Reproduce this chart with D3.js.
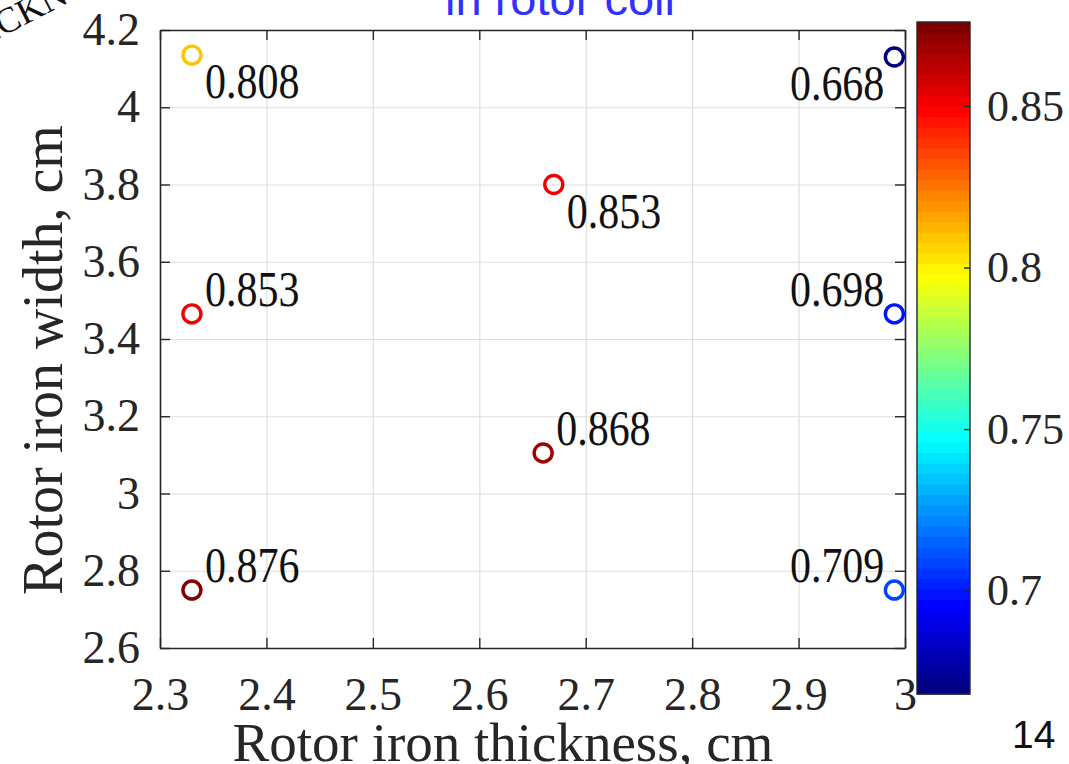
<html>
    <head>
        <script src="https://d3js.org/d3.v7.min.js"></script>
        <title>Rotor iron scatter</title>
        <style>
            body { margin: 0; background: #fff; }
        </style>
    </head>
    <body>
        <div class="viz"></div>
        <script type="text/javascript">
            // data
            var thickness = [2.33, 2.99, 2.67, 2.33, 2.99, 2.66, 2.33, 2.99];
            var width = [4.135, 4.13, 3.80, 3.465, 3.465, 3.105, 2.75, 2.75];
            var values = [0.808, 0.668, 0.853, 0.853, 0.698, 0.868, 0.876, 0.709];
            var labelSide = ["br", "bl", "br", "tr", "tl", "tr", "tr", "tl"];
            var xTicks = [2.3, 2.4, 2.5, 2.6, 2.7, 2.8, 2.9, 3.0];
            var yTicks = [2.6, 2.8, 3.0, 3.2, 3.4, 3.6, 3.8, 4.0, 4.2];
            var cbTicks = [0.7, 0.75, 0.8, 0.85];

            var vizWidth = 1069, vizHeight = 764;
            // note: "top" is taken by window.top, so prefix these
            var plotL = 160, plotR = 905, plotT = 30, plotB = 648;
            var serif = "'Liberation Serif', 'Times New Roman', serif";
            var sans = "'Liberation Sans', Arial, sans-serif";
            var axisColor = "#262626";

            // matlab jet colormap
            function jet(t) {
                function c(v) { return Math.max(0, Math.min(1, v)); }
                var r = c(1.5 - Math.abs(4 * t - 3));
                var g = c(1.5 - Math.abs(4 * t - 2));
                var b = c(1.5 - Math.abs(4 * t - 1));
                return d3.rgb(r * 255, g * 255, b * 255).toString();
            }

            var xScale = d3.scaleLinear().domain([2.3, 3.0]).range([plotL, plotR]);
            var yScale = d3.scaleLinear().domain([2.6, 4.2]).range([plotB, plotT]);
            var cMin = d3.min(values), cMax = d3.max(values);
            // 64 discrete steps like matlab
            var colorScale = d3.scaleQuantize().domain([cMin, cMax])
                .range(d3.range(64).map(function(i){ return jet(i / 63); }));

            var svg = d3.select("div")
                        .append("svg")
                        .attr("width", vizWidth)
                        .attr("height", vizHeight);

            svg.append("rect").attr("width", vizWidth).attr("height", vizHeight).attr("fill", "#fff");

            // grid
            svg.append("g")
                .attr("transform", "translate(0," + plotB + ")")
                .call(d3.axisBottom(xScale).tickValues(xTicks).tickSize(-(plotB - plotT)).tickFormat(""))
                .call(function(g){ g.select(".domain").remove(); })
                .selectAll("line").attr("stroke", "#dedede").attr("stroke-width", 1.2);
            svg.append("g")
                .attr("transform", "translate(" + plotL + ",0)")
                .call(d3.axisLeft(yScale).tickValues(yTicks).tickSize(-(plotR - plotL)).tickFormat(""))
                .call(function(g){ g.select(".domain").remove(); })
                .selectAll("line").attr("stroke", "#dedede").attr("stroke-width", 1.2);

            var fmt = d3.format("~g");

            // axes, ticks pointing inward
            var xAxis = svg.append("g")
                .attr("transform", "translate(0," + plotB + ")")
                .call(d3.axisBottom(xScale).tickValues(xTicks).tickSize(-10).tickSizeOuter(0).tickPadding(29).tickFormat(fmt));
            var yAxis = svg.append("g")
                .attr("transform", "translate(" + plotL + ",0)")
                .call(d3.axisLeft(yScale).tickValues(yTicks).tickSize(-10).tickSizeOuter(0).tickPadding(20).tickFormat(fmt));
            var xTop = svg.append("g")
                .attr("transform", "translate(0," + plotT + ")")
                .call(d3.axisTop(xScale).tickValues(xTicks).tickSize(-10).tickSizeOuter(0).tickFormat(""));
            var yRight = svg.append("g")
                .attr("transform", "translate(" + plotR + ",0)")
                .call(d3.axisRight(yScale).tickValues(yTicks).tickSize(-10).tickSizeOuter(0).tickFormat(""));

            [xAxis, yAxis, xTop, yRight].forEach(function(a){
                a.select(".domain").attr("stroke", axisColor).attr("stroke-width", 1.6);
                a.selectAll(".tick line").attr("stroke", axisColor).attr("stroke-width", 1.4);
                a.selectAll("text")
                    .attr("font-family", serif)
                    .attr("font-size", 46)
                    .attr("fill", "#262626");
            });

            // points
            var pts = svg.selectAll("g.pt")
                .data(values)
                .enter()
                .append("g")
                .attr("class", "pt")
                .attr("transform", function(d, i){
                    return "translate(" + xScale(thickness[i]) + "," + yScale(width[i]) + ")";
                });

            pts.append("circle")
                .attr("r", 9)
                .attr("fill", "none")
                .attr("stroke-width", 3.4)
                .attr("stroke", function(d){ return colorScale(d); });

            pts.append("text")
                .attr("font-family", serif)
                .attr("font-size", 42)
                .attr("fill", "#111")
                .attr("text-anchor", function(d, i){ return labelSide[i][1] == "r" ? "start" : "end"; })
                .attr("transform", function(d, i){
                    var dx = labelSide[i][1] == "r" ? 13 : -10;
                    var dy = labelSide[i][0] == "b" ? 43 : -8;
                    return "translate(" + dx + "," + dy + ") scale(1,1.2)";
                })
                .text(function(d){ return d3.format(".3f")(d); });

            // axis labels
            svg.append("text")
                .attr("x", 503).attr("y", 761)
                .attr("text-anchor", "middle")
                .attr("font-family", serif).attr("font-size", 55).attr("fill", "#262626")
                .text("Rotor iron thickness, cm");
            svg.append("text")
                .attr("transform", "translate(62,360) rotate(-90)")
                .attr("text-anchor", "middle")
                .attr("font-family", serif).attr("font-size", 56).attr("fill", "#262626")
                .text("Rotor iron width, cm");

            // colorbar
            var cbX = 917, cbW = 53;
            var cbScale = d3.scaleLinear().domain([cMin, cMax]).range([694, 22]);
            var steps = d3.range(64);
            var stepH = (cbScale(cMin) - cbScale(cMax)) / 64;
            svg.append("g").selectAll("rect")
                .data(steps)
                .enter()
                .append("rect")
                .attr("x", cbX)
                .attr("width", cbW)
                .attr("y", function(d){ return cbScale(cMin) - (d + 1) * stepH; })
                .attr("height", stepH + 0.6)
                .attr("fill", function(d){ return jet(d / 63); });
            svg.append("rect")
                .attr("x", cbX).attr("y", cbScale(cMax))
                .attr("width", cbW).attr("height", cbScale(cMin) - cbScale(cMax))
                .attr("fill", "none").attr("stroke", axisColor).attr("stroke-width", 1.4);

            var cbAxis = svg.append("g")
                .attr("transform", "translate(" + (cbX + cbW) + ",0)")
                .call(d3.axisRight(cbScale).tickValues(cbTicks).tickSize(-6).tickSizeOuter(0).tickPadding(17).tickFormat(fmt));
            cbAxis.select(".domain").remove();
            cbAxis.selectAll(".tick line").attr("stroke", axisColor).attr("stroke-width", 1.4);
            cbAxis.selectAll("text")
                .attr("font-family", serif)
                .attr("font-size", 44)
                .attr("fill", "#262626");

            // slide leftovers
            svg.append("text")
                .attr("x", 560).attr("y", 15)
                .attr("text-anchor", "middle")
                .attr("font-family", sans).attr("font-size", 47).attr("fill", "#3030ff")
                .text("in rotor coil");
            svg.append("text")
                .attr("transform", "translate(70,2) rotate(-27)")
                .attr("text-anchor", "end")
                .attr("font-family", serif).attr("font-size", 36).attr("fill", "#111")
                .text("THICKN");
            svg.append("text")
                .attr("x", 1012).attr("y", 748)
                .attr("font-family", sans).attr("font-size", 39).attr("fill", "#111")
                .text("14");
        </script>
    </body>
</html>
